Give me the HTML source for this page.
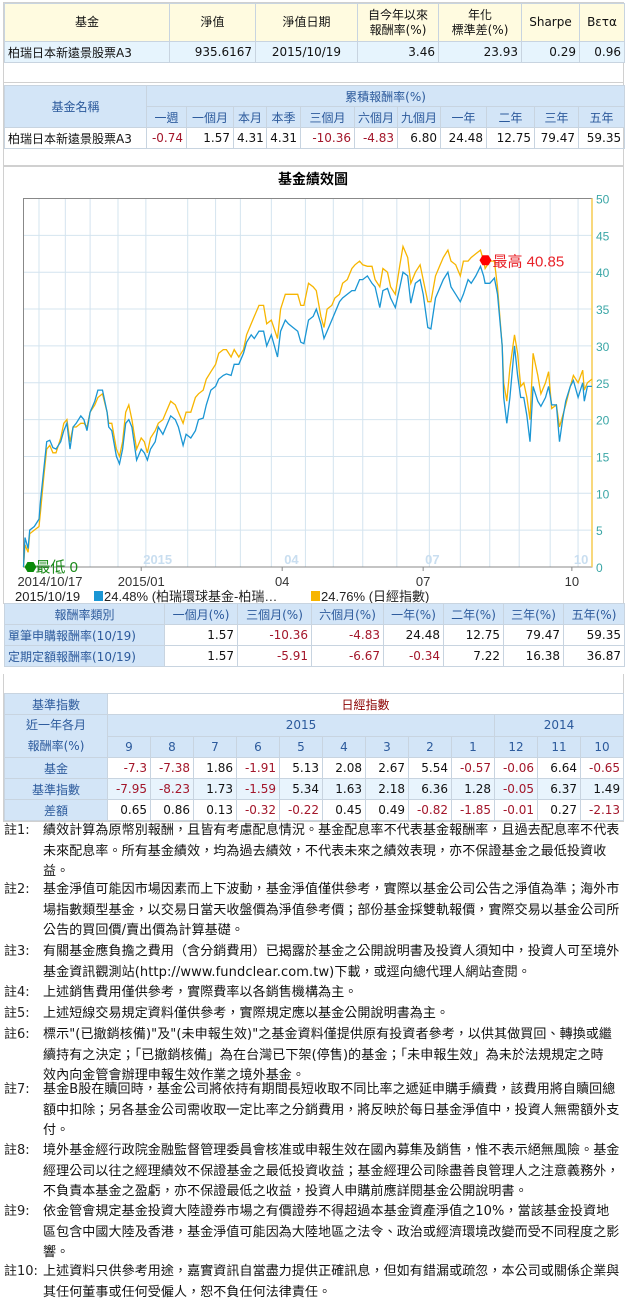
<!DOCTYPE html>
<html><head><meta charset="utf-8">
<style>
*{box-sizing:border-box;margin:0;padding:0}
body{width:627px;height:1302px;background:#fff;font-family:"DejaVu Sans","Noto Sans CJK TC",sans-serif;font-size:12px;color:#111;position:relative;overflow:hidden}
table{border-collapse:collapse;position:absolute;table-layout:fixed}
td{border:1px solid #c8d4e0;padding:0 3px;white-space:nowrap;overflow:hidden;height:21px}
.r{text-align:right}.c{text-align:center}
.neg{color:#a3162a}
.t1 .h td{background:#fffbe0;text-align:center;line-height:15px}
.t1 .d td{background:#e6f4fd}
.bh td,.bh{background:#d3e5f7;color:#2c5a9c;text-align:center}
.sec{position:absolute;border:1px solid #d0d0d0}
.note{position:absolute;left:4px;width:622px;line-height:20.5px;font-size:13px;white-space:nowrap;font-family:"DejaVu Sans","Noto Sans CJK TC",sans-serif}
.note b{font-weight:normal;position:absolute;left:0;color:#222}
.note div{margin-left:39px;letter-spacing:0.1px}
</style></head><body>
<div class="sec" style="left:3px;top:2px;width:621px;height:80px;border-bottom:none"></div>
<table class="t1" style="left:4px;top:3px;width:620px">
<colgroup><col style="width:165px"><col style="width:86px"><col style="width:102px"><col style="width:81px"><col style="width:83px"><col style="width:58px"><col style="width:45px"></colgroup>
<tr class="h" style="height:38px"><td>基金</td><td>淨值</td><td>淨值日期</td><td>自今年以來<br>報酬率(%)</td><td>年化<br>標準差(%)</td><td>Sharpe</td><td>Bετα</td></tr>
<tr class="d"><td>柏瑞日本新遠景股票A3</td><td class="r">935.6167</td><td class="c">2015/10/19</td><td class="r">3.46</td><td class="r">23.93</td><td class="r">0.29</td><td class="r">0.96</td></tr>
</table>

<div class="sec" style="left:3px;top:82px;width:621px;height:84px"></div>
<table style="left:4px;top:85px;width:620px">
<colgroup><col style="width:142px"><col style="width:40px"><col style="width:47px"><col style="width:33px"><col style="width:34px"><col style="width:54px"><col style="width:43px"><col style="width:43px"><col style="width:46px"><col style="width:48px"><col style="width:44px"><col style="width:46px"></colgroup>
<tr class="bh"><td rowspan="2">基金名稱</td><td colspan="11">累積報酬率(%)</td></tr>
<tr class="bh"><td>一週</td><td>一個月</td><td>本月</td><td>本季</td><td>三個月</td><td>六個月</td><td>九個月</td><td>一年</td><td>二年</td><td>三年</td><td>五年</td></tr>
<tr><td>柏瑞日本新遠景股票A3</td><td class="r neg">-0.74</td><td class="r">1.57</td><td class="r">4.31</td><td class="r">4.31</td><td class="r neg">-10.36</td><td class="r neg">-4.83</td><td class="r">6.80</td><td class="r">24.48</td><td class="r">12.75</td><td class="r">79.47</td><td class="r">59.35</td></tr>
</table>

<div class="sec" style="left:3px;top:166px;width:621px;height:438px"></div>
<svg id="chart" style="position:absolute;left:0;top:0" width="627" height="610"></svg>

<table style="left:4px;top:603px;width:620px">
<colgroup><col style="width:160px"><col style="width:73px"><col style="width:74px"><col style="width:72px"><col style="width:60px"><col style="width:60px"><col style="width:60px"><col style="width:61px"></colgroup>
<tr class="bh"><td>報酬率類別</td><td>一個月(%)</td><td>三個月(%)</td><td>六個月(%)</td><td>一年(%)</td><td>二年(%)</td><td>三年(%)</td><td>五年(%)</td></tr>
<tr><td class="bh" style="text-align:left">單筆申購報酬率(10/19)</td><td class="r">1.57</td><td class="r neg">-10.36</td><td class="r neg">-4.83</td><td class="r">24.48</td><td class="r">12.75</td><td class="r">79.47</td><td class="r">59.35</td></tr>
<tr><td class="bh" style="text-align:left">定期定額報酬率(10/19)</td><td class="r">1.57</td><td class="r neg">-5.91</td><td class="r neg">-6.67</td><td class="r neg">-0.34</td><td class="r">7.22</td><td class="r">16.38</td><td class="r">36.87</td></tr>
</table>
<div class="sec" style="left:3px;top:674px;width:621px;height:148px;border-top:none"></div>

<table style="left:4px;top:693px;width:620px">
<colgroup><col style="width:103px"><col span="12" style="width:43px"></colgroup>
<tr><td class="bh">基準指數</td><td colspan="12" class="c" style="color:#8b0000">日經指數</td></tr>
<tr><td class="bh" rowspan="2" style="line-height:21px">近一年各月<br>報酬率(%)</td><td colspan="9" class="bh">2015</td><td colspan="3" class="bh">2014</td></tr>
<tr class="bh"><td>9</td><td>8</td><td>7</td><td>6</td><td>5</td><td>4</td><td>3</td><td>2</td><td>1</td><td>12</td><td>11</td><td>10</td></tr>
<tr><td class="bh">基金</td><td class="r neg">-7.3</td><td class="r neg">-7.38</td><td class="r">1.86</td><td class="r neg">-1.91</td><td class="r">5.13</td><td class="r">2.08</td><td class="r">2.67</td><td class="r">5.54</td><td class="r neg">-0.57</td><td class="r neg">-0.06</td><td class="r">6.64</td><td class="r neg">-0.65</td></tr>
<tr style="background:#e8f4fd"><td class="bh">基準指數</td><td class="r neg">-7.95</td><td class="r neg">-8.23</td><td class="r">1.73</td><td class="r neg">-1.59</td><td class="r">5.34</td><td class="r">1.63</td><td class="r">2.18</td><td class="r">6.36</td><td class="r">1.28</td><td class="r neg">-0.05</td><td class="r">6.37</td><td class="r">1.49</td></tr>
<tr><td class="bh">差額</td><td class="r">0.65</td><td class="r">0.86</td><td class="r">0.13</td><td class="r neg">-0.32</td><td class="r neg">-0.22</td><td class="r">0.45</td><td class="r">0.49</td><td class="r neg">-0.82</td><td class="r neg">-1.85</td><td class="r neg">-0.01</td><td class="r">0.27</td><td class="r neg">-2.13</td></tr>
</table>

<div class="note" style="top:821px"><b>註1:</b><div>績效計算為原幣別報酬，且皆有考慮配息情況。基金配息率不代表基金報酬率，且過去配息率不代表<br>未來配息率。所有基金績效，均為過去績效，不代表未來之績效表現，亦不保證基金之最低投資收<br>益。</div></div>
<div class="note" style="top:880px"><b>註2:</b><div>基金淨值可能因市場因素而上下波動，基金淨值僅供參考，實際以基金公司公告之淨值為準；海外市<br>場指數類型基金，以交易日當天收盤價為淨值參考價；部份基金採雙軌報價，實際交易以基金公司所<br>公告的買回價/賣出價為計算基礎。</div></div>
<div class="note" style="top:942px"><b>註3:</b><div>有關基金應負擔之費用（含分銷費用）已揭露於基金之公開說明書及投資人須知中，投資人可至境外<br>基金資訊觀測站(http://www.fundclear.com.tw)下載，或逕向總代理人網站查閱。</div></div>
<div class="note" style="top:983px"><b>註4:</b><div>上述銷售費用僅供參考，實際費率以各銷售機構為主。</div></div>
<div class="note" style="top:1004px"><b>註5:</b><div>上述短線交易規定資料僅供參考，實際規定應以基金公開說明書為主。</div></div>
<div class="note" style="top:1025px"><b>註6:</b><div>標示"(已撤銷核備)"及"(未申報生效)"之基金資料僅提供原有投資者參考，以供其做買回、轉換或繼<br>續持有之決定；「已撤銷核備」為在台灣已下架(停售)的基金；「未申報生效」為未於法規規定之時<br>效內向金管會辦理申報生效作業之境外基金。</div></div>
<div class="note" style="top:1080px"><b>註7:</b><div>基金B股在贖回時，基金公司將依持有期間長短收取不同比率之遞延申購手續費，該費用將自贖回總<br>額中扣除；另各基金公司需收取一定比率之分銷費用，將反映於每日基金淨值中，投資人無需額外支<br>付。</div></div>
<div class="note" style="top:1141px"><b>註8:</b><div>境外基金經行政院金融監督管理委員會核准或申報生效在國內募集及銷售，惟不表示絕無風險。基金<br>經理公司以往之經理績效不保證基金之最低投資收益；基金經理公司除盡善良管理人之注意義務外，<br>不負責本基金之盈虧，亦不保證最低之收益，投資人申購前應詳閱基金公開說明書。</div></div>
<div class="note" style="top:1202px"><b>註9:</b><div>依金管會規定基金投資大陸證券市場之有價證券不得超過本基金資產淨值之10%，當該基金投資地<br>區包含中國大陸及香港，基金淨值可能因為大陸地區之法令、政治或經濟環境改變而受不同程度之影<br>響。</div></div>
<div class="note" style="top:1262px"><b>註10:</b><div>上述資料只供參考用途，嘉實資訊自當盡力提供正確訊息，但如有錯漏或疏忽，本公司或關係企業與<br>其任何董事或任何受僱人，恕不負任何法律責任。</div></div>

<script>
const days=[0,1,3,4,7,10,11,13,15,17,19,21,24,26,28,30,32,34,37,39,41,43,46,48,51,54,55,57,60,62,64,66,68,70,73,76,78,80,82,85,87,90,92,95,98,100,103,105,108,111,113,116,118,121,124,126,129,131,134,136,139,142,144,147,149,152,155,157,160,164,166,169,171,174,177,179,181,184,187,189,192,194,196,199,201,204,206,209,212,214,217,219,222,225,227,230,232,235,237,240,243,245,248,250,253,256,258,261,263,266,269,271,274,276,279,282,284,287,289,292,295,297,298,301,304,306,309,310,312,314,317,319,321,323,325,327,329,332,334,337,339,341,344,346,348,350,353,355,358,361,362,364,367];
const fundValues=[0,4,2.5,5,5.5,6.5,9,13,17,17.2,16.2,16,17,18.5,19.5,16,19,19.5,20.5,20,18.5,21,22.5,24,24,21,19,18.5,15,14,16,19.5,20,19,14.5,16,15.5,14.5,16,17,19,18,19,20.5,20,19,16.5,18,17.5,18.5,20,20.2,22,24,24.5,25.5,26,26.2,26,27.5,27.5,29,30.5,31.5,31,32,32,30,31.5,28.5,32,33.5,33,32.5,32,30.5,30.3,33.5,34,35,33,31,32,33.5,34.5,36,36.5,37,37.5,37.5,39,39,39.5,38.5,38,35.2,37.5,37.8,36.5,35.2,38,40,39.5,35.8,38.5,39,37,32.5,32.3,36.5,38,39,40,38,37,36,37,39,38.5,39.5,40.8,39.5,38.5,38.5,39.2,37,30,23,19.5,23,30,26,23,23,20.5,17,24.5,22.5,21.8,23,24.5,22,22,17,20,22.5,24.5,25.3,23,25,22.5,24.5,24.5];
const indexValues=[0,3,2,4.5,5,5.5,7.5,12,16,16.5,15.5,15.5,17.5,19.5,20,17,19,19,19.5,19.5,19,21,22,23,23.5,21,19.5,19.5,16,15,17,21,22,20,16,17.5,17,15.5,17.5,18.5,19.5,20,21,22.5,22,21,19.5,21,21,23,23.5,24,25.5,26.5,27.5,29,29.5,29.5,28.5,29.5,28.5,29.5,31.5,33,34,35.5,35.5,33,33.5,31,35,37,37,37,37,35.5,35.5,38.5,38,37.5,34,32.5,35,35.5,36.5,37,38.5,39,40.5,41,41.5,41,40.8,40.8,39,38,40.5,40,38,37,41,43.5,42,38.5,40,41,39,36,36,39.5,41,42,43,41.5,41,39.5,41.5,41.5,42,42.5,43,41.5,40.5,41.5,41.5,38,30,25,22.5,27,31.5,29,24.5,25,23,20,29,26,23.5,25,26.5,21.5,22,19,20.5,22,24.5,26,25,26.7,24,25,25.5];
const yTicks=[0,5,10,15,20,25,30,35,40,45,50];
const gridDays=[10,27,43,61,79,106,124,140,160,182,200,219,241,262,282,301,320,340,358];
const monthLabels=["2014/10/17","2015/01","04","07","10"];
const monthDays=[10,76,167,258,354];
const watermarkLabels=["2015","04","07","10"];
const watermarkDays=[76,167,258,354];
const NS="http://www.w3.org/2000/svg";
const svg=document.getElementById('chart');
const X0=23.5,X1=592,Y0=567,Y1=198.5,DMAX=367,VMAX=50;
const xs=d=>X0+d/DMAX*(X1-X0);
const ys=v=>Y0-v/VMAX*(Y0-Y1);
const FF='Liberation Sans, Noto Sans CJK TC, sans-serif';
function mk(tag,at,txt){const e=document.createElementNS(NS,tag);for(const k in at)e.setAttribute(k,at[k]);if(txt!=null)e.textContent=txt;svg.appendChild(e);return e;}
let t=mk('text',{x:313,y:184,'text-anchor':'middle','font-size':'14','font-weight':'bold','font-family':FF},'基金績效圖');

mk('rect',{x:X0,y:Y1,width:X1-X0,height:Y0-Y1,fill:'#fff',stroke:'none'});
yTicks.forEach(v=>{const l=mk('line',{x1:X0,x2:X1,y1:ys(v),y2:ys(v),stroke:'#d4e4ef','stroke-width':1});

const tx=mk('text',{x:596,y:ys(v)+5,'font-size':'12',fill:'#3aa6a6','font-family':FF},String(v));
});
gridDays.forEach(d=>{const l=mk('line',{x1:xs(d),x2:xs(d),y1:Y1,y2:Y0,stroke:'#d4e4ef','stroke-width':1});
});
watermarkLabels.forEach((s,i)=>{const tx=mk('text',{x:xs(watermarkDays[i])+2,y:564,'font-size':'13','font-weight':'bold',fill:'#c9def0','font-family':FF},s);
});
mk('rect',{x:X0,y:Y1,width:X1-X0,height:Y0-Y1,fill:'none',stroke:'#888','stroke-width':1});
mk('line',{x1:X1,x2:X1,y1:Y1,y2:Y0,stroke:'#f5cc50','stroke-width':1.5});
monthLabels.forEach((s,i)=>{const x=xs(monthDays[i]);mk('line',{x1:x,x2:x,y1:Y0,y2:Y0+4,stroke:'#888'});
const tx=mk('text',{x:i==0?50:x,y:586,'text-anchor':'middle','font-size':'13',fill:'#333','font-family':FF},s);
});
function line(vals,color,name){const p=mk('polyline',{points:vals.map((v,i)=>xs(days[i]).toFixed(1)+','+ys(v).toFixed(1)).join(' '),fill:'none',stroke:color,'stroke-width':1.3});
}
line(indexValues,'#f7b500','index-line');
line(fundValues,'#1a96d4','fund-line');
let mx=0;fundValues.forEach((v,i)=>{if(v>fundValues[mx])mx=i;});
const hx=xs(days[mx])+5,hy=ys(fundValues[mx])-6;
let hm=mk('polygon',{points:`${hx-6},${hy} ${hx-3},${hy-5} ${hx+3},${hy-5} ${hx+6},${hy} ${hx+3},${hy+5} ${hx-3},${hy+5}`,fill:'#f00'});

let ht=mk('text',{x:hx+7,y:hy+6,'font-size':'15',fill:'#e8232a','font-family':FF},'最高 40.85');

const lx=xs(0)+7,ly=ys(0);
let lm=mk('polygon',{points:`${lx-6},${ly} ${lx-3},${ly-5} ${lx+3},${ly-5} ${lx+6},${ly} ${lx+3},${ly+5} ${lx-3},${ly+5}`,fill:'#0a8a0a'});

let lt=mk('text',{x:lx+5,y:ly+5,'font-size':'15',fill:'#1a8a1a','font-family':FF},'最低 0');

const lg=mk('text',{x:15,y:601,'font-size':'13',fill:'#222','font-family':FF},'2015/10/19');

let s1=mk('rect',{x:94,y:591,width:9,height:10,fill:'#1a96d4'});
let l1=mk('text',{x:104,y:601,'font-size':'13',fill:'#222','font-family':FF},'24.48% (柏瑞環球基金-柏瑞…');

let s2=mk('rect',{x:311,y:591,width:9,height:10,fill:'#f7b500'});
let l2=mk('text',{x:321,y:601,'font-size':'13',fill:'#222','font-family':FF},'24.76% (日經指數)');

</script>
</body></html>
